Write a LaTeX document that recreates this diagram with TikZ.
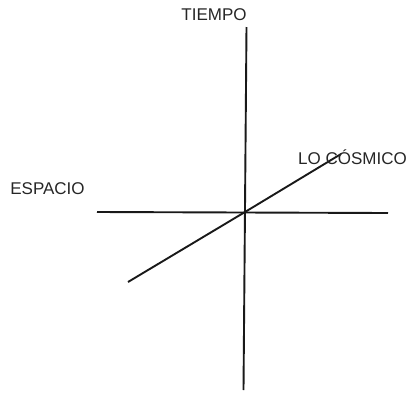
\documentclass[tikz,border=0pt]{standalone}
\usepackage{fontspec}
\setmainfont{Liberation Sans}

\begin{document}
\begin{tikzpicture}[x=1pt,y=-1pt,
	axis/.style={line width=1.9pt,black!90},
	label/.style={anchor=base,font=\fontsize{17}{19}\selectfont,text=black!85,inner sep=0pt}]
	\useasboundingbox (0, 0) rectangle (408, 392);
	%Axis ends
		\coordinate (origin) at (245, 212);
		\coordinate (tiempotop) at (246.5, 27);
		\coordinate (tiempobot) at (243.5, 390);
		\coordinate (espacioleft) at (97, 212);
		\coordinate (espacioright) at (388, 213);
		\coordinate (cosmicolow) at (128, 282);
		\coordinate (cosmicohigh) at (341, 154);
	%Time axis
		\draw [axis] (tiempotop) -- (tiempobot);
	%Space axis
		\draw [axis] (espacioleft) -- (espacioright);
	%Cosmic axis
		\draw [axis] (cosmicolow) -- (origin) -- (cosmicohigh);
	%Labels
		\node [label] (tiempo) at (214, 20) {TIEMPO};
		\node [label] (espacio) at (47.5, 194) {ESPACIO};
		\node [label] (cosmico) at (352.5, 164) {LO CÓSMICO};
\end{tikzpicture}
\end{document}
